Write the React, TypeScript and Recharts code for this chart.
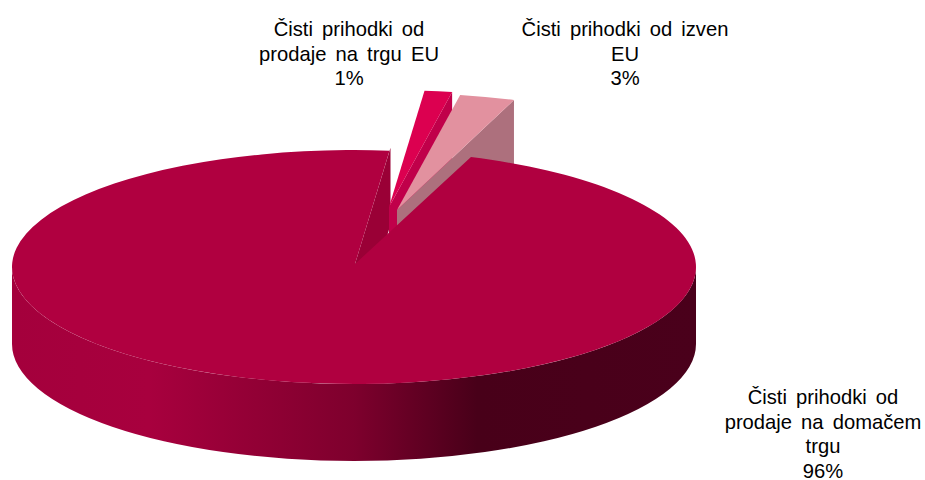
import { PieChart, Pie } from 'recharts'

const categories = ['domaci', 'eu', 'izven']
const shares = [96.1, 1.3, 2.6]
const labelLines = [
  ['Čisti prihodki od', 'prodaje na domačem', 'trgu', '96%'],
  ['Čisti prihodki od', 'prodaje na trgu EU', '1%'],
  ['Čisti prihodki od izven', 'EU', '3%'],
]

const data = categories.map((name, i) => ({ name, value: shares[i] }))

// fake 3d: the pie is squashed into an ellipse and extruded downwards
const SQUASH = 0.342
const DEPTH = 77
const TOP_COLORS = ['#b00040', '#dc0050', '#e2919f']
const WALL_COLORS = ['#9a0036', '#c0004a', '#ad707d']
// how far each slice is pulled out of the pie
const EXPLODE = [
  { dx: 1, dy: -3 },
  { dx: 35, dy: -60 },
  { dx: 43, dy: -57 },
]
const LABEL_POS = [
  { x: 823, y: 404 },
  { x: 349, y: 36 },
  { x: 625, y: 36 },
]

const rad = (a: number) => (a * Math.PI) / 180

function pointAt(p: any, angle: number, ox: number, oy: number) {
  return {
    x: p.cx + ox + p.outerRadius * Math.cos(rad(angle)),
    y: p.cy + oy - p.outerRadius * SQUASH * Math.sin(rad(angle)),
  }
}

function topPath(p: any, ox: number, oy: number) {
  const rx = p.outerRadius
  const ry = rx * SQUASH
  const a = pointAt(p, p.startAngle, ox, oy)
  const b = pointAt(p, p.endAngle, ox, oy)
  const large = Math.abs(p.endAngle - p.startAngle) > 180 ? 1 : 0
  return `M${p.cx + ox},${p.cy + oy}L${a.x},${a.y}A${rx},${ry} 0 ${large} 1 ${b.x},${b.y}Z`
}

function wallPath(p: any, angle: number, ox: number, oy: number) {
  const o = pointAt(p, angle, ox, oy)
  const ax = p.cx + ox
  const ay = p.cy + oy
  return `M${ax},${ay}L${o.x},${o.y}L${o.x},${o.y + DEPTH}L${ax},${ay + DEPTH}Z`
}

// back layer: the wall inside the notch and the two pulled out slices
function BackShape(p: any) {
  const i = categories.indexOf(p.name)
  const { dx, dy } = EXPLODE[i]
  if (i === 0) {
    return <path d={wallPath(p, p.endAngle, dx, dy)} fill={WALL_COLORS[0]} />
  }
  return (
    <g>
      <path d={wallPath(p, p.endAngle, dx, dy)} fill={WALL_COLORS[i]} />
      <path d={topPath(p, dx, dy)} fill={TOP_COLORS[i]} />
    </g>
  )
}

// front layer: rim and top face of the big slice
function FrontShape(p: any) {
  const i = categories.indexOf(p.name)
  if (i !== 0) return <g />
  const { dx, dy } = EXPLODE[0]
  const rx = p.outerRadius
  const ry = rx * SQUASH
  const l = p.cx - rx
  const r = p.cx + rx
  const rim = `M${l},${p.cy}L${l},${p.cy + DEPTH}A${rx},${ry} 0 0 0 ${r},${p.cy + DEPTH}L${r},${p.cy}A${rx},${ry} 0 0 1 ${l},${p.cy}Z`
  const a = pointAt(p, p.startAngle, 0, 0)
  const b = pointAt(p, p.endAngle, 0, 0)
  return (
    <g>
      <path d={rim} fill="url(#rimGrad)" />
      <path
        d={`M${p.cx + dx},${p.cy + dy}L${a.x},${a.y}A${rx},${ry} 0 1 1 ${b.x},${b.y}Z`}
        fill={TOP_COLORS[0]}
      />
    </g>
  )
}

function renderLabel(p: any) {
  const i = categories.indexOf(p.name)
  const { x, y } = LABEL_POS[i]
  return (
    <text x={x} y={y} textAnchor="middle" fontFamily="Liberation Sans" fontSize={20.2} fill="#000" style={{ wordSpacing: 3.5 }}>
      {labelLines[i].map((line, n) => (
        <tspan key={n} x={x} dy={n === 0 ? 0 : 24.5}>{line}</tspan>
      ))}
    </text>
  )
}

export default function App() {
  return (
    <div style={{ position: 'absolute', left: 0, top: 0, width: 925, height: 480, background: '#fff' }}>
      <PieChart width={925} height={480} margin={{ top: 0, right: 0, bottom: 0, left: 0 }}>
        <defs>
          <linearGradient id="rimGrad" gradientUnits="userSpaceOnUse" x1="12" y1="0" x2="696" y2="0">
            <stop offset="0" stopColor="#a4003c" />
            <stop offset="0.2" stopColor="#a8003e" />
            <stop offset="0.5" stopColor="#7e002d" />
            <stop offset="0.68" stopColor="#480019" />
            <stop offset="1" stopColor="#4a001b" />
          </linearGradient>
        </defs>
        <Pie
          data={data}
          dataKey="value"
          nameKey="name"
          cx={354}
          cy={267}
          outerRadius={342}
          startAngle={70}
          endAngle={-290}
          stroke="none"
          shape={BackShape}
          isAnimationActive={false}
        />
        <Pie
          data={data}
          dataKey="value"
          nameKey="name"
          cx={354}
          cy={267}
          outerRadius={342}
          startAngle={70}
          endAngle={-290}
          stroke="none"
          shape={FrontShape}
          label={renderLabel}
          labelLine={false}
          isAnimationActive={false}
        />
      </PieChart>
    </div>
  )
}
